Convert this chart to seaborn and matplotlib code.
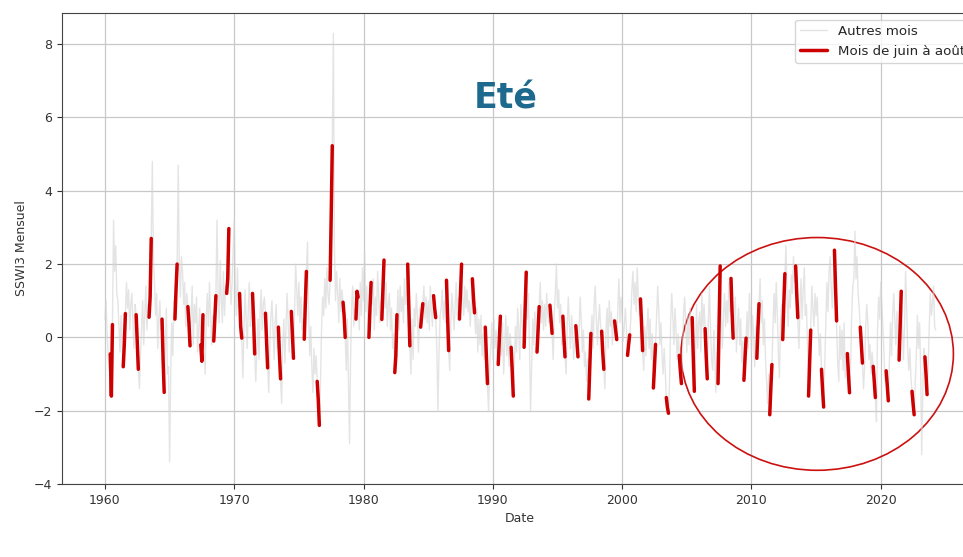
import matplotlib
matplotlib.use("Agg")
import matplotlib.pyplot as plt
import matplotlib.dates as mdates
from matplotlib.patches import Ellipse
import seaborn as sns
import pandas as pd

# SSWI3 mensuel, une ligne par annee (janvier -> decembre)
annee_debut = 1960
sswi3 = [
    [0.5, 1.0, 0.2, -0.5, -0.9, -0.45, -1.6, 0.35, 3.2, 1.8, 2.5, 1.2],      # 1960
    [1.0, 0.3, -0.4, 0.6, -0.2, -0.8, -0.2, 0.65, 1.5, 0.8, 1.3, 0.2],       # 1961
    [0.9, 1.2, 0.4, -0.3, 0.9, 0.62, -0.1, -0.87, -1.4, -0.5, 0.3, 1.0],     # 1962
    [-0.2, 0.6, 1.4, 0.2, 0.9, 0.55, 1.1, 2.7, 4.8, 2.2, 1.5, 0.6],          # 1963
    [1.2, -0.3, 0.5, 1.0, 0.2, 0.5, -0.6, -1.5, -0.4, 0.8, -1.0, -0.8],      # 1964
    [-3.4, -1.0, 0.4, -0.5, 1.0, 0.5, 1.3, 2.0, 4.7, 2.0, 1.1, 2.2],         # 1965
    [1.8, 0.9, 1.5, 0.3, 1.2, 0.84, 0.4, -0.23, 0.6, 1.4, -0.2, 0.9],        # 1966
    [0.4, 1.1, -0.4, 0.2, 0.8, -0.2, -0.65, 0.62, 0.0, -1.0, 0.5, 1.2],      # 1967
    [0.3, 1.5, 0.7, -0.2, 0.6, -0.1, 0.5, 1.14, 3.2, 1.2, 0.4, 2.1],         # 1968
    [1.0, 0.4, 1.8, 0.6, 1.4, 1.2, 1.6, 2.97, 1.8, 0.9, 1.5, 2.4],           # 1969
    [3.2, 1.4, 0.6, 1.9, 0.8, 1.2, 0.3, -0.02, -1.1, 0.2, 1.3, 0.5],         # 1970
    [-0.3, 0.8, 1.5, 0.3, 0.6, 1.2, 0.5, -0.45, -1.2, -0.4, 0.5, -0.6],      # 1971
    [0.7, 1.3, 0.2, 0.9, 1.1, 0.66, -0.1, -0.83, -1.5, -0.3, 0.6, 1.0],      # 1972
    [0.2, -0.6, 0.4, 0.9, -0.3, 0.28, -0.5, -1.13, -1.8, -0.2, 0.5, -0.7],   # 1973
    [0.3, 1.2, 0.5, -0.4, 0.6, 0.71, 0.1, -0.57, 0.8, 2.0, 1.3, 0.6],        # 1974
    [1.5, 0.4, 1.1, 0.2, 0.5, -0.05, 0.9, 1.8, 2.6, 0.8, -0.5, 0.3],         # 1975
    [-0.8, -1.5, -0.3, -1.0, -0.5, -1.2, -1.7, -2.4, -1.3, 0.2, 1.1, 0.6],   # 1976
    [1.6, 0.8, 1.9, 1.2, 0.9, 1.56, 3.3, 5.23, 8.3, 2.5, 1.0, 1.8],          # 1977
    [1.2, 0.4, 1.6, 0.7, 1.3, 0.96, 0.6, 0.0, -0.9, 0.5, -1.2, -2.9],        # 1978
    [-0.5, 0.9, 1.4, 0.3, 0.8, 0.5, 1.26, 1.1, 0.2, 1.5, 0.6, 1.9],          # 1979
    [1.0, 2.3, 0.7, 1.4, 0.5, 0.0, 0.8, 1.5, 0.9, 1.6, 0.2, 1.1],            # 1980
    [0.6, 1.8, 1.2, 0.4, 1.0, 0.49, 1.3, 2.11, 0.8, 1.5, 0.3, 0.9],          # 1981
    [1.2, 0.2, 0.8, -0.3, 0.1, -0.96, -0.5, 0.62, 1.3, 0.2, 1.4, 0.7],       # 1982
    [1.1, 0.4, 1.6, 0.9, 1.3, 2.0, 0.9, -0.23, -1.0, 0.5, -0.6, 0.8],        # 1983
    [0.3, 1.2, 0.6, -0.4, 0.8, 0.28, 0.6, 0.92, 1.4, 0.5, 1.1, 0.4],         # 1984
    [1.0, 0.2, 1.4, 0.7, 0.3, 1.14, 0.8, 0.54, -0.3, -2.0, -0.5, 0.6],       # 1985
    [0.8, 1.3, 0.5, 1.0, 0.4, 1.56, 0.6, -0.36, -0.9, 0.4, 1.2, 0.7],        # 1986
    [0.2, 0.9, 1.5, 0.6, 1.1, 0.5, 1.2, 2.0, 1.1, 0.6, 1.4, 0.8],            # 1987
    [1.3, 0.7, 1.0, 0.3, 0.9, 1.6, 1.1, 0.67, 0.1, 0.8, -0.4, 0.5],          # 1988
    [-0.2, 0.6, -0.5, 0.1, -0.6, 0.28, -0.5, -1.26, -2.0, -0.8, -0.3, 0.4],  # 1989
    [-0.6, 0.5, -0.3, 0.2, -0.4, -0.74, -0.1, 0.58, -0.5, 0.4, -1.0, -0.2],  # 1990
    [0.6, -0.5, 0.3, -0.8, 0.1, -0.27, -0.9, -1.6, -0.7, 0.3, -0.4, 0.8],    # 1991
    [0.2, -0.6, 0.9, 0.4, 0.1, -0.27, 0.8, 1.78, 0.5, 1.2, -0.3, -2.0],      # 1992
    [-0.8, 0.5, -0.2, 0.7, 0.3, -0.4, 0.2, 0.84, 1.5, 0.4, 1.0, 0.2],        # 1993
    [0.9, 0.3, 1.2, 0.6, 0.4, 0.88, 0.5, 0.11, -0.6, 0.7, 1.2, 2.0],         # 1994
    [0.8, 1.3, 0.4, 0.9, -0.2, 0.58, 0.0, -0.53, -1.0, 0.3, 1.1, 0.4],       # 1995
    [-0.3, 0.6, 0.1, -0.6, -0.1, 0.32, -0.1, -0.53, 0.2, 1.1, 0.5, -0.4],    # 1996
    [0.2, -0.8, -0.4, -1.2, -0.6, -1.68, -0.8, 0.11, 0.6, -0.3, 0.9, 1.4],   # 1997
    [0.5, -0.2, 0.4, 0.9, 0.3, 0.17, -0.4, -0.87, -1.4, 0.2, 0.8, -0.3],     # 1998
    [1.0, 0.3, 0.7, -0.2, 0.5, 0.45, 0.2, -0.06, 0.8, 1.6, 0.4, 1.1],        # 1999
    [0.6, -0.1, 0.3, 0.8, 0.2, -0.49, -0.2, 0.07, 0.5, 1.3, 1.8, 0.9],       # 2000
    [1.5, 0.7, 1.9, 1.1, 0.6, 1.05, 0.4, -0.36, -0.9, 0.3, -0.5, 0.2],       # 2001
    [0.8, -0.3, 0.5, -0.6, 0.1, -1.38, -0.8, -0.19, 0.6, 1.4, 0.7, -0.2],    # 2002
    [0.4, -0.5, -1.0, -0.3, -0.9, -1.64, -1.9, -2.07, -1.2, 0.4, 1.2, 0.6],  # 2003
    [-0.2, 0.8, 0.2, -0.6, 0.1, -0.49, -0.9, -1.26, -0.4, 0.7, 1.1, 0.3],    # 2004
    [-0.4, 0.6, -0.2, 0.8, 0.3, 0.54, -0.5, -1.47, -0.6, 0.9, -0.3, 0.4],    # 2005
    [0.7, -0.4, 1.2, 0.3, 0.9, 0.24, -0.5, -1.13, 0.5, 1.4, 0.2, -0.6],      # 2006
    [-0.9, 0.2, -0.5, -1.5, -0.4, -1.26, 0.4, 1.95, 0.8, -0.3, 0.6, 1.2],    # 2007
    [0.3, 1.0, 0.4, 1.5, 0.7, 1.61, 0.7, -0.02, 0.6, 1.1, -0.4, 0.3],        # 2008
    [0.8, -0.2, 0.5, -0.7, -0.1, -1.17, -0.6, -0.02, 0.7, -0.3, 1.2, 0.5],   # 2009
    [-0.4, 0.6, 0.1, -0.8, 0.3, -0.57, 0.2, 0.92, 1.6, 0.4, 1.0, -0.2],      # 2010
    [0.5, -0.6, -1.2, -1.8, -1.0, -2.11, -1.4, -0.74, 0.3, 1.2, 0.4, 1.5],   # 2011
    [0.6, -0.5, -1.1, 0.4, 0.9, -0.06, 0.9, 1.74, 2.5, 1.1, 0.3, 1.3],       # 2012
    [0.8, 1.7, 1.2, 2.2, 1.5, 1.95, 1.2, 0.54, -0.3, 0.8, 1.6, 0.5],         # 2013
    [1.3, 1.9, 0.6, 0.9, -0.2, -1.6, -0.7, 0.2, 1.4, 0.8, 0.3, 1.2],         # 2014
    [0.6, 1.1, 0.2, -0.5, 0.1, -0.87, -1.4, -1.9, -0.8, 0.4, 1.5, 0.7],      # 2015
    [1.8, 2.2, 1.4, 0.8, 1.6, 2.38, 1.4, 0.45, -0.7, -1.2, 0.3, -0.6],       # 2016
    [0.2, -0.9, 0.4, -1.1, -0.5, -0.44, -1.0, -1.51, -0.8, 0.6, 1.4, 1.6],   # 2017
    [2.9, 1.6, 2.2, 1.2, 0.8, 0.28, -0.2, -0.7, -1.4, -0.8, 0.3, 0.9],       # 2018
    [0.4, -0.6, -0.2, -1.0, -0.4, -0.79, -1.2, -1.64, -2.3, 0.2, 1.1, 0.5],  # 2019
    [1.5, 0.9, 0.3, -0.5, -1.2, -0.91, -1.3, -1.73, -0.6, 0.4, -0.5, 0.6],   # 2020
    [1.2, 0.5, -0.2, 0.7, -0.3, -0.62, 0.3, 1.26, 0.4, -0.6, 0.3, 1.8],      # 2021
    [0.8, -0.4, -0.9, -0.3, -1.1, -1.47, -1.8, -2.11, -1.2, -0.5, 0.6, -0.3],# 2022
    [0.4, -0.9, -3.2, -1.5, -0.3, -0.53, -1.0, -1.56, -0.8, 0.3, 1.2, 0.6],  # 2023
    [0.9, 1.4, 0.3, 0.2],                                                     # 2024
]
mois_ete = [6, 7, 8]

# mise en forme en serie mensuelle
lignes = []
for i, valeurs in enumerate(sswi3):
    for m, v in enumerate(valeurs):
        lignes.append({"date": pd.Timestamp(annee_debut + i, m + 1, 1),
                       "annee": annee_debut + i, "mois": m + 1, "sswi3": v})
df = pd.DataFrame(lignes)
ete = df[df["mois"].isin(mois_ete)]

sns.set_style("ticks")
fig = plt.figure(figsize=(9.63, 5.57), dpi=100)
ax = fig.add_axes([0.0644, 0.131, 0.95, 0.8456])

sns.lineplot(data=df, x="date", y="sswi3", ax=ax, color="lightgray",
             alpha=0.6, linewidth=1, label="Autres mois")
premier = True
for annee, grp in ete.groupby("annee"):
    sns.lineplot(data=grp, x="date", y="sswi3", ax=ax, color="#cc0000",
                 linewidth=2.5, label="Mois de juin à août" if premier else None)
    premier = False

# ellipse autour de la periode recente
centre = mdates.date2num(pd.Timestamp("2015-02-01"))
ax.add_patch(Ellipse((centre, -0.45), width=21.06 * 365.25, height=6.35,
                     fill=False, edgecolor="#cc1111", linewidth=1.2))

ax.set_xlim(pd.Timestamp("1956-09-06"), pd.Timestamp("2027-06-07"))
ax.set_ylim(-4, 8.85)
ax.xaxis.set_major_locator(mdates.YearLocator(10))
ax.xaxis.set_major_formatter(mdates.DateFormatter("%Y"))
ax.grid(True, color="#c8c8c8", linewidth=0.9)
for s in ax.spines.values():
    s.set_color("#444444")
ax.tick_params(labelsize=9, colors="#333333")
ax.set_xlabel("Date", fontsize=9, color="#333333")
ax.set_ylabel("SSWI3 Mensuel", fontsize=9, color="#333333")

ax.legend(loc="upper right", fontsize=9.6, frameon=True)

fig.text(0.525, 0.824, "Eté", ha="center", va="center", fontsize=25,
         fontweight="bold", color="#1d6a8e")

fig.savefig("out.png", dpi=100)
